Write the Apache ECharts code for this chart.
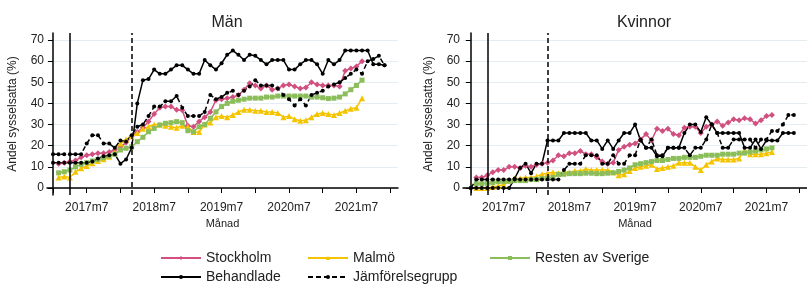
<!DOCTYPE html>
<html>
<head>
<meta charset="utf-8">
<script src="https://cdn.jsdelivr.net/npm/echarts@6/dist/echarts.min.js"></script>
<style>
  html, body { margin: 0; padding: 0; background: #fff; }
  #chart { width: 807px; height: 285px; }
</style>
</head>
<body>
<div id="chart"></div>
<script>
// månadsindex 0 = 2017m1
var xTicks = [0, 6, 12, 18, 24, 30, 36, 42, 48, 54, 60];
var xLabelPos = [6, 18, 30, 42, 54];
var xLabels = ["2017m7", "2018m7", "2019m7", "2020m7", "2021m7"];
var yTicks = [0, 10, 20, 30, 40, 50, 60, 70];
var treatMonth = 3;   // Behandlade
var compMonth = 14;   // Jämförelsegrupp

// Män
var menSthlm = [null, 11.5, 12, 12.5, 13, 14.5, 15.5, 16, 16.5, 16.5, 17, 18, 19.5, 21.5,
  24.5, 26.5, 28.5, 31.5, 35, 38, 38.5, 38.5, 37, 36.8, 29.5, 29, 31.5, 33.5, 36, 41.5,
  42, 42.5, 43, 44, 46.5, 49.5, 48.5, 47, 48.5, 46.5, 47, 48.5, 49, 48, 47, 47.5, 50, 49, 48.5, 48.5, 48.5, 48, 55.5, 56.5, 57.5, 60];
var menMalmo = [null, 5, 5.4, 5, 7.7, 9.3, 10.4, 11.7, 12.8, 13.6, 14.8, 16.7, 21, 23, 24.5, 26,
  28, 29, 30, 30, 29.5, 29, 28.5, 29.5, 29, 26.5, 26.5, 30, 31, 33.5, 34, 33.5, 34.5, 36, 37, 37,
  36.5, 36.5, 36, 36, 35.5, 33.5, 34, 32.5, 31.8, 32, 33.5, 35, 35.5, 35, 34.5, 35.5, 36.5, 37.5, 38, 42.5];
var menRest = [null, 7.2, 7.7, 8.5, 10, 11.2, 12, 12.8, 13.5, 14.3, 15.1, 15.9, 18, 18.8, 19.5, 21.9,
  24, 26.6, 28.2, 29.8, 30.6, 30.9, 31.4, 30.9, 27.1, 26.6, 29, 30, 33, 36, 38.5, 40, 41, 41.5, 42,
  42.5, 42.5, 42.5, 43, 43, 43.5, 43.5, 43.5, 43.5, 43.5, 43.5, 43, 43, 42.7, 42.3, 42.5, 43, 44.5, 46.5, 48.5, 51];
var menBeh = [12, 12, 12, 12, 12, 12, 12, 12.5, 14, 15, 15.5, 16, 11.5, 13.5, 19, 40, 51, 51.5, 56, 54,
  54, 56, 58, 58, 56, 54, 54, 60.5, 58, 56, 59, 63, 65, 63, 60.5, 63, 62.5, 60.5, 58.5, 60.5,
  60.5, 60.5, 56, 56, 58.5, 60.5, 60.5, 58.5, 54, 60.5, 58.5, 60.5, 65, 65, 65, 65, 65, 58.5, 58.5, 58];
var menJamf = [16, 16, 16, 16, 16, 16, 21, 25, 25, 21, 21, 19, 22.5, 22, 25, 29, 30, 34, 38.5, 38.5,
  41, 41, 43.5, 38, 34, 34, 34, 36, 44, 42, 43, 45, 46, 44, 46, 48, 51, 48.5, 48.5, 48.5,
  47, 44, 42, 39, 42, 39, 44, 45, 46, 48, 49, 50, 52, 54, 56, 54, 60, 61, 62.5, 58];

// Kvinnor
var womenSthlm = [null, 5, 5, 6, 7.5, 8.5, 8.5, 10, 10, 9.5, 10.5, 10, 11, 11.5, 12, 13, 15.5, 15, 16.5,
  16.5, 17.5, 16, 16, 14.5, 12.5, 11.5, 12, 18, 19.5, 20.5, 21, 23, 25.5, 22.5, 28, 27, 28, 25.5, 25,
  28.5, 29, 29, 26, 29, 30, 31.5, 29.5, 31, 32.5, 32, 33, 32.5, 30.5, 32, 34, 34.5];
var womenMalmo = [null, 0, 0, 0, 0.5, 1, 1.5, 3.5, 4.5, 4.5, 5, 5, 5.5, 6.5, 7, 7.5, 7, 7.5, 7.5, 8, 8,
  9, 8.5, 8.5, 8.5, 8.5, 7.5, 6, 6.5, 8, 9.5, 10, 10.5, 11, 9, 9.5, 10, 10.5, 12, 12, 12,
  10, 8.5, 11, 12.5, 14, 13.5, 13.5, 13.5, 14, 18, 16, 16, 16, 16.5, 17];
var womenRest = [null, 2, 2, 2.2, 2.5, 3, 3, 3.2, 3.5, 3.5, 3.5, 4, 4, 4.5, 4.5, 5, 6.5, 6.5, 6.8, 6.8, 6.8,
  7, 7, 6.8, 6.8, 7, 7.2, 7.8, 8.5, 9.5, 11, 11.5, 12, 12.5, 13, 13, 13.5, 14, 14, 14.5, 14.5,
  14.5, 15, 15.5, 15.5, 15.5, 16, 16, 16, 16.5, 16.5, 17, 17.5, 18, 18.5, 19];
var womenBeh = [0, 0, 0, 0, 0, 0, 0, 0, 4.5, 9.5, 11.5, 7, 11.5, 11.5, 22.5, 22.5, 22.5, 26, 26, 26,
  26, 26, 22.5, 22.5, 18.5, 22.5, 18.5, 22.5, 26, 26, 30, 22.5, 19, 19, 15, 15, 19, 19, 19, 26,
  30, 30, 26.5, 33.5, 30, 26, 26, 26, 26, 26, 19, 19, 23, 18.5, 22.5, 22.5, 22.5, 26, 26, 26];
var womenJamf = [0, 4, 4, 4, 4, 4, 4, 4, 4, 4, 4, 4, 4, 4, 4, 4, 4, 8.5, 11.5, 11.5,
  11.5, 15.5, 15.5, 15.5, 11.5, 11.5, 15.5, 11.5, 11.5, 15.5, 15.5, 23, 19, 23, 15.5, 15.5, 19, 19, 19, 19,
  15.5, 19, 19, 23, 30, 26, 19, 19, 23, 23, 23, 23, 19, 23, 23, 27, 27, 30, 34.5, 34.5];

var font = "Liberation Sans, Arial, sans-serif";
var pink = "#d1507f", yellow = "#f5c400", green = "#8bbd5a";

function pts(arr) {
  return arr.map(function (v, i) { return [i, v]; });
}

function xAxisFor(gi, min) {
  return {
    type: "value", gridIndex: gi, min: min, max: 61.4,
    name: "Månad", nameLocation: "middle", nameGap: 17,
    nameTextStyle: { fontSize: 11, color: "#222", fontFamily: font },
    axisLine: { show: true, lineStyle: { color: "#000", width: 1.5 } },
    axisTick: { show: true, length: 5, customValues: xTicks, lineStyle: { color: "#000", width: 1 } },
    axisLabel: {
      customValues: xLabelPos, margin: 7, fontSize: 12, color: "#222", fontFamily: font,
      formatter: function (v) { return xLabels[xLabelPos.indexOf(v)]; }
    },
    splitLine: { show: false }
  };
}

function yAxisFor(gi) {
  return {
    type: "value", gridIndex: gi, min: -3.3, max: 73.3,
    name: "Andel sysselsatta (%)", nameLocation: "middle", nameGap: 28,
    nameTextStyle: { fontSize: 12, color: "#222", fontFamily: font },
    axisLine: { show: true, lineStyle: { color: "#000", width: 1.5 } },
    axisTick: { show: true, length: 5, customValues: yTicks, lineStyle: { color: "#000", width: 1 } },
    axisLabel: { customValues: yTicks, margin: 3, fontSize: 12, color: "#222", fontFamily: font },
    splitLine: { show: true, lineStyle: { color: "#e4edf2", width: 1.2 } }
  };
}

function panelSeries(gi, sth, mal, rest, beh, jamf) {
  var base = { type: "line", xAxisIndex: gi, yAxisIndex: gi, connectNulls: false, animation: false };
  return [
    Object.assign({}, base, { name: "Stockholm", data: pts(sth), symbol: "diamond", symbolSize: 6,
      itemStyle: { color: pink }, lineStyle: { color: pink, width: 1.5 } }),
    Object.assign({}, base, { name: "Malmö", data: pts(mal), symbol: "triangle", symbolSize: 6,
      itemStyle: { color: yellow }, lineStyle: { color: yellow, width: 1.5 } }),
    Object.assign({}, base, { name: "Resten av Sverige", data: pts(rest), symbol: "rect", symbolSize: 5,
      itemStyle: { color: green }, lineStyle: { color: green, width: 1.5 } }),
    Object.assign({}, base, { name: "Behandlade", data: pts(beh), symbol: "circle", symbolSize: 4,
      itemStyle: { color: "#000" }, lineStyle: { color: "#000", width: 1.5 },
      markLine: {
        silent: true, symbol: "none", label: { show: false }, animation: false,
        data: [
          { xAxis: treatMonth, lineStyle: { color: "#000", width: 1.5, type: "solid" } },
          { xAxis: compMonth, lineStyle: { color: "#000", width: 1.5, type: [5, 3] } }
        ]
      } }),
    Object.assign({}, base, { name: "Jämförelsegrupp", data: pts(jamf), symbol: "circle", symbolSize: 4,
      itemStyle: { color: "#000" }, lineStyle: { color: "#000", width: 1.5, type: [5, 3] } })
  ];
}

function legendAt(name, left, top) {
  return {
    data: [name], left: left, top: top, itemWidth: 40, itemHeight: 5, itemGap: 0,
    padding: 0, textStyle: { fontSize: 14, color: "#222", fontFamily: font }, selectedMode: false
  };
}

var chart = echarts.init(document.getElementById("chart"));
chart.setOption({
  backgroundColor: "#fff",
  animation: false,
  title: [
    { text: "Män", left: 222, top: 10, textAlign: "center",
      textStyle: { fontSize: 16, fontWeight: "normal", color: "#222", fontFamily: font } },
    { text: "Kvinnor", left: 639, top: 10, textAlign: "center",
      textStyle: { fontSize: 16, fontWeight: "normal", color: "#222", fontFamily: font } }
  ],
  grid: [
    { left: 47, top: 33, width: 351, height: 162 },
    { left: 463, top: 33, width: 351, height: 162 }
  ],
  xAxis: [xAxisFor(0, -1.07), xAxisFor(1, -1.43)],
  yAxis: [yAxisFor(0), yAxisFor(1)],
  legend: [
    legendAt("Stockholm", 160, 251),
    legendAt("Malmö", 307, 251),
    legendAt("Resten av Sverige", 489, 251),
    legendAt("Behandlade", 160, 270),
    legendAt("Jämförelsegrupp", 307, 270)
  ],
  series: panelSeries(0, menSthlm, menMalmo, menRest, menBeh, menJamf)
    .concat(panelSeries(1, womenSthlm, womenMalmo, womenRest, womenBeh, womenJamf))
});
</script>
</body>
</html>
